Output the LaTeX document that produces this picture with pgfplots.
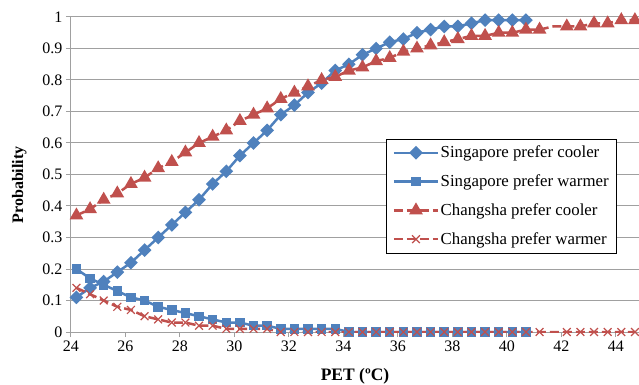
\documentclass[border=0pt]{standalone}
\usepackage{pgfplots}
\pgfplotsset{compat=1.18}
\usepackage{fontspec}
\setmainfont{Liberation Serif}
\definecolor{sgblue}{RGB}{79,129,189}
\definecolor{csred}{RGB}{192,80,77}
\definecolor{gridgray}{RGB}{160,160,160}
\begin{document}
\begin{tikzpicture}
\begin{axis}[
  scale only axis,
  width=568bp, height=315bp,
  xmin=24, xmax=44.85, ymin=0, ymax=1,
  xtick={24,26,...,44},
  ytick={0,0.1,0.2,0.3,0.4,0.5,0.6,0.7,0.8,0.9,1},
  axis x line*=bottom, axis y line*=left,
  axis line style={gridgray, line width=1bp, -},
  ymajorgrids, major grid style={gridgray, line width=1bp},
  tick align=outside, major tick length=5bp,
  tick style={gridgray, line width=1bp},
  /pgf/number format/assume math mode=true,
  /pgf/number format/fixed,
  tick label style={font=\fontsize{16bp}{19bp}\selectfont},
  xlabel={\textbf{PET (ºC)}},
  ylabel={\textbf{Probability}},
  xlabel style={font=\fontsize{17.5bp}{20bp}\selectfont, yshift=-10bp},
  ylabel style={font=\fontsize{16bp}{19bp}\selectfont, at={(ticklabel cs:0.467)}, yshift=9bp},
  legend style={draw=black, fill=white,
    font=\fontsize{16.8bp}{19bp}\selectfont,
    at={(0.961,0.613)}, anchor=north east,
    row sep=11.5bp, inner ysep=5bp, inner xsep=6.5bp,
    nodes={inner xsep=1.5bp}},
  legend cell align=left,
  legend image code/.code={\draw (0bp,0bp) -- (44bp,0bp); \draw plot coordinates {(22bp,0bp)};},
]
\addplot[sgblue, line width=2.5bp, mark=square*, mark size=3.6bp, mark options={rotate=45, solid}] coordinates {
(24.2,0.11)(24.7,0.14)(25.2,0.16)(25.7,0.19)(26.2,0.22)(26.7,0.26)(27.2,0.30)(27.7,0.34)(28.2,0.38)(28.7,0.42)
(29.2,0.47)(29.7,0.51)(30.2,0.56)(30.7,0.60)(31.2,0.64)(31.7,0.69)(32.2,0.72)(32.7,0.76)(33.2,0.79)(33.7,0.83)
(34.2,0.85)(34.7,0.88)(35.2,0.90)(35.7,0.92)(36.2,0.93)(36.7,0.95)(37.2,0.96)(37.7,0.97)(38.2,0.97)(38.7,0.98)
(39.2,0.99)(39.7,0.99)(40.2,0.99)(40.7,0.99)};
\addlegendentry{Singapore prefer cooler}
\addplot[sgblue, line width=2.5bp, mark=square*, mark size=3.5bp, mark options={solid}] coordinates {
(24.2,0.20)(24.7,0.17)(25.2,0.15)(25.7,0.13)(26.2,0.11)(26.7,0.10)(27.2,0.08)(27.7,0.07)(28.2,0.06)(28.7,0.05)
(29.2,0.04)(29.7,0.03)(30.2,0.03)(30.7,0.02)(31.2,0.02)(31.7,0.01)(32.2,0.01)(32.7,0.01)(33.2,0.01)(33.7,0.01)
(34.2,0)(34.7,0)(35.2,0)(35.7,0)(36.2,0)(36.7,0)(37.2,0)(37.7,0)(38.2,0)(38.7,0)
(39.2,0)(39.7,0)(40.2,0)(40.7,0)};
\addlegendentry{Singapore prefer warmer}
\addplot[csred, line width=2.5bp, dash pattern=on 9bp off 4bp, mark=triangle*, mark size=5.5bp, mark options={solid},
  mark indices={1,...,35,37,38,39,40,41,42}] coordinates {
(24.2,0.37)(24.7,0.39)(25.2,0.42)(25.7,0.44)(26.2,0.47)(26.7,0.49)(27.2,0.52)(27.7,0.54)(28.2,0.57)(28.7,0.60)
(29.2,0.62)(29.7,0.64)(30.2,0.67)(30.7,0.69)(31.2,0.71)(31.7,0.74)(32.2,0.76)(32.7,0.78)(33.2,0.80)(33.7,0.81)
(34.2,0.83)(34.7,0.84)(35.2,0.86)(35.7,0.87)(36.2,0.89)(36.7,0.90)(37.2,0.91)(37.7,0.92)(38.2,0.93)(38.7,0.94)
(39.2,0.94)(39.7,0.95)(40.2,0.95)(40.7,0.96)(41.2,0.96)(41.7,0.97)(42.2,0.97)(42.7,0.97)(43.2,0.98)(43.7,0.98)
(44.2,0.99)(44.7,0.99)};
\addlegendentry{Changsha prefer cooler}
\addplot[csred, line width=2.5bp, dash pattern=on 9bp off 4bp, mark=x, mark size=5.5bp, mark options={solid, line width=1.2bp},
  mark indices={1,...,35,37,38,39,40,41,42}] coordinates {
(24.2,0.14)(24.7,0.12)(25.2,0.10)(25.7,0.08)(26.2,0.07)(26.7,0.05)(27.2,0.04)(27.7,0.03)(28.2,0.03)(28.7,0.02)
(29.2,0.02)(29.7,0.01)(30.2,0.01)(30.7,0.01)(31.2,0.01)(31.7,0)(32.2,0)(32.7,0)(33.2,0)(33.7,0)
(34.2,0)(34.7,0)(35.2,0)(35.7,0)(36.2,0)(36.7,0)(37.2,0)(37.7,0)(38.2,0)(38.7,0)
(39.2,0)(39.7,0)(40.2,0)(40.7,0)(41.2,0)(41.7,0)(42.2,0)(42.7,0)(43.2,0)(43.7,0)
(44.2,0)(44.7,0)};
\addlegendentry{Changsha prefer warmer}
\end{axis}
\pgfresetboundingbox
\path[use as bounding box] ([xshift=-71bp,yshift=-53bp]current axis.south west) rectangle ([yshift=17bp]current axis.north east);
\end{tikzpicture}
\end{document}
